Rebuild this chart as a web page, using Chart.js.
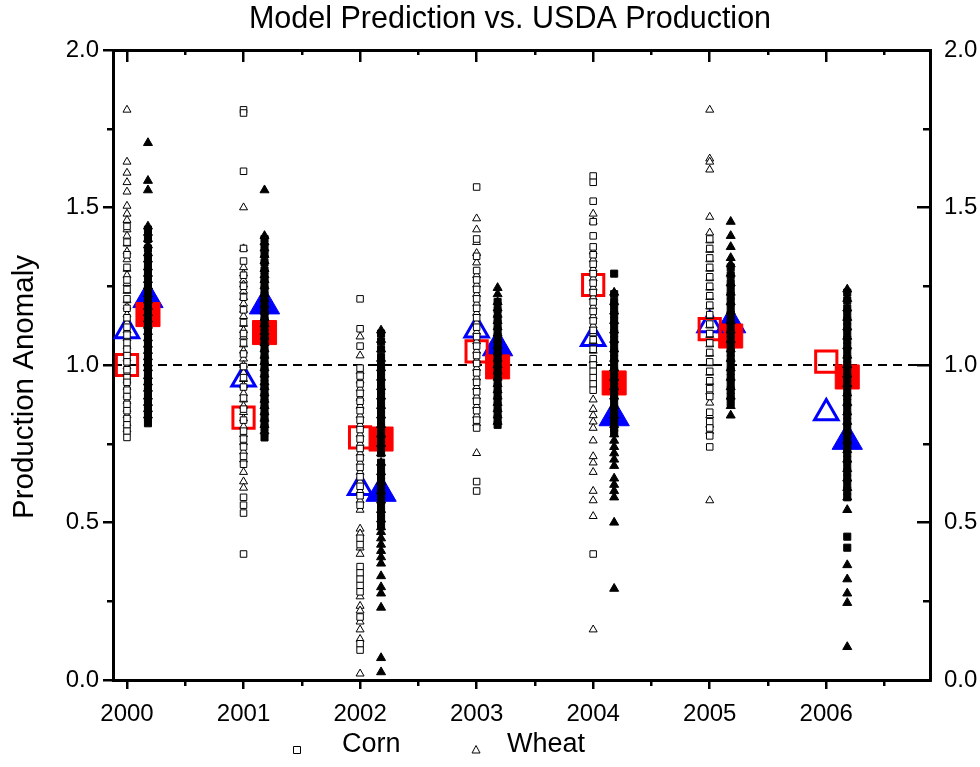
<!DOCTYPE html>
<html>
<head>
<meta charset="utf-8">
<script src="https://cdn.jsdelivr.net/npm/chart.js@4/dist/chart.umd.min.js"></script>
<style>
  html, body { margin: 0; padding: 0; background: #fff; }
  canvas { display: block; }
</style>
</head>
<body>
<canvas id="c" width="980" height="767"></canvas>
<script>
// ---------------- data ----------------
const YEARS = [2000, 2001, 2002, 2003, 2004, 2005, 2006];
const X_MAJOR = [2000, 2001, 2002, 2003, 2004, 2005, 2006];
const X_MINOR = [2000.5, 2001.5, 2002.5, 2003.5, 2004.5, 2005.5, 2006.5];
const Y_MAJOR = [0, 0.5, 1.0, 1.5, 2.0];
const Y_MINOR = [0.25, 0.75, 1.25, 1.75];
const X_MIN = 1999.88, X_MAX = 2006.89;
const Y_MIN = 0, Y_MAX = 2.0;
const REFERENCE_LEVEL = [1.0, 1.0];

// big markers (one per year)
const cornPredMean  = [1.00, 0.833, 0.77, 1.043, 1.254, 1.114, 1.011];  // open red squares
const wheatPredMean = [1.108, 0.955, 0.61, 1.11, 1.083, 1.127, 0.848];  // open blue triangles
const cornObsMean   = [1.16, 1.103, 0.765, 0.994, 0.943, 1.092, 0.962]; // filled red squares
const wheatObsMean  = [1.21, 1.19, 0.595, 1.057, 0.835, 1.13, 0.76];    // filled blue triangles

// small open squares (corn) at each year
const cornPred = [
  [1.44, 1.39, 1.35, 1.31, 1.27, 1.24, 1.21, 1.18, 1.15, 1.12, 1.095, 1.07, 1.05, 1.03, 1.01, 0.985, 0.96, 0.945, 0.92, 0.90, 0.875, 0.855, 0.83, 0.81, 0.79, 0.77],
  [1.81, 1.80, 1.615, 1.37, 1.33, 1.285, 1.25, 1.215, 1.175, 1.135, 1.10, 1.07, 1.035, 0.995, 0.96, 0.93, 0.895, 0.86, 0.825, 0.79, 0.765, 0.74, 0.71, 0.685, 0.58, 0.555, 0.53, 0.40],
  [1.21, 1.115, 1.06, 0.99, 0.965, 0.94, 0.91, 0.885, 0.855, 0.825, 0.795, 0.765, 0.735, 0.705, 0.675, 0.645, 0.615, 0.585, 0.555, 0.45, 0.43, 0.36, 0.34, 0.32, 0.30, 0.28, 0.20, 0.115, 0.095],
  [1.565, 1.40, 1.345, 1.30, 1.27, 1.24, 1.21, 1.18, 1.15, 1.12, 1.09, 1.06, 1.03, 1.005, 0.975, 0.945, 0.915, 0.885, 0.855, 0.825, 0.80, 0.63, 0.60],
  [1.60, 1.58, 1.52, 1.455, 1.41, 1.375, 1.35, 1.32, 1.29, 1.26, 1.23, 1.20, 1.17, 1.14, 1.11, 1.08, 1.05, 1.02, 1.00, 0.98, 0.96, 0.94, 0.92, 0.40],
  [1.40, 1.37, 1.34, 1.31, 1.28, 1.25, 1.22, 1.19, 1.16, 1.13, 1.10, 1.07, 1.04, 1.01, 0.98, 0.95, 0.925, 0.90, 0.85, 0.82, 0.80, 0.775, 0.74],
  []
];
// small open triangles (wheat) at each year
const wheatPred = [
  [1.81, 1.645, 1.61, 1.58, 1.55, 1.505, 1.48, 1.46, 1.43, 1.41, 1.385, 1.36, 1.335, 1.305, 1.285, 1.26, 1.235, 1.205, 1.185, 1.16, 1.135, 1.11, 1.085, 1.06, 1.04, 1.02, 0.995, 0.975, 0.95, 0.93, 0.905, 0.885, 0.86, 0.84, 0.815, 0.795],
  [1.50, 1.37, 1.31, 1.29, 1.27, 1.255, 1.235, 1.215, 1.195, 1.175, 1.155, 1.13, 1.11, 1.09, 1.065, 1.045, 1.02, 1.00, 0.975, 0.955, 0.935, 0.91, 0.89, 0.87, 0.85, 0.83, 0.805, 0.78, 0.755, 0.725, 0.70, 0.66, 0.63, 0.61],
  [1.09, 1.03, 0.98, 0.95, 0.925, 0.895, 0.87, 0.84, 0.81, 0.78, 0.75, 0.72, 0.69, 0.66, 0.63, 0.60, 0.57, 0.54, 0.48, 0.465, 0.42, 0.40, 0.265, 0.235, 0.22, 0.185, 0.16, 0.13, 0.02],
  [1.465, 1.43, 1.39, 1.355, 1.325, 1.285, 1.255, 1.225, 1.195, 1.165, 1.135, 1.105, 1.075, 1.045, 1.015, 0.99, 0.96, 0.93, 0.90, 0.87, 0.84, 0.815, 0.72],
  [1.48, 1.455, 1.36, 1.335, 1.305, 1.275, 1.245, 1.215, 1.185, 1.155, 1.125, 1.10, 1.075, 1.045, 1.015, 0.89, 0.86, 0.84, 0.82, 0.80, 0.76, 0.71, 0.69, 0.66, 0.60, 0.57, 0.52, 0.16],
  [1.81, 1.655, 1.645, 1.62, 1.47, 1.42, 1.395, 1.365, 1.335, 1.305, 1.275, 1.245, 1.215, 1.185, 1.155, 1.125, 1.095, 1.065, 1.035, 1.005, 0.975, 0.945, 0.915, 0.88, 0.84, 0.81, 0.79, 0.57],
  []
];
// small filled squares (corn) just right of each year
const cornObs = [
  [1.43, 1.40, 1.37, 1.345, 1.32, 1.30, 1.28, 1.255, 1.235, 1.215, 1.19, 1.17, 1.15, 1.13, 1.11, 1.09, 1.07, 1.05, 1.03, 1.01, 0.995, 0.975, 0.955, 0.935, 0.915, 0.895, 0.875, 0.855, 0.835, 0.815],
  [1.40, 1.375, 1.35, 1.325, 1.30, 1.28, 1.26, 1.24, 1.22, 1.20, 1.18, 1.16, 1.14, 1.12, 1.10, 1.08, 1.06, 1.04, 1.02, 1.00, 0.98, 0.96, 0.94, 0.92, 0.90, 0.88, 0.86, 0.84, 0.82, 0.80, 0.77],
  [1.10, 1.075, 1.05, 1.025, 1.00, 0.98, 0.96, 0.94, 0.92, 0.90, 0.88, 0.86, 0.84, 0.82, 0.80, 0.78, 0.76, 0.74, 0.72, 0.69, 0.67, 0.65, 0.63, 0.61, 0.59, 0.57, 0.55, 0.53, 0.51, 0.49],
  [1.20, 1.175, 1.15, 1.13, 1.11, 1.09, 1.07, 1.05, 1.03, 1.01, 0.99, 0.97, 0.95, 0.93, 0.91, 0.89, 0.87, 0.85, 0.83, 0.81],
  [1.29, 1.225, 1.20, 1.18, 1.16, 1.14, 1.12, 1.10, 1.08, 1.06, 1.04, 1.02, 1.00, 0.98, 0.96, 0.94, 0.92, 0.90, 0.88, 0.86, 0.84, 0.82, 0.80, 0.785],
  [1.31, 1.285, 1.26, 1.24, 1.22, 1.20, 1.18, 1.16, 1.14, 1.12, 1.10, 1.08, 1.06, 1.04, 1.02, 1.00, 0.98, 0.96, 0.94, 0.92, 0.90, 0.88],
  [1.23, 1.205, 1.18, 1.16, 1.14, 1.12, 1.10, 1.08, 1.06, 1.04, 1.02, 1.00, 0.98, 0.96, 0.94, 0.92, 0.90, 0.88, 0.86, 0.84, 0.82, 0.80, 0.78, 0.76, 0.74, 0.72, 0.70, 0.68, 0.66, 0.64, 0.62, 0.60, 0.58, 0.455, 0.42]
];
// small filled triangles (wheat) just right of each year
const wheatObs = [
  [1.705, 1.585, 1.555, 1.44, 1.42, 1.40, 1.38, 1.355, 1.335, 1.31, 1.29, 1.27, 1.25, 1.225, 1.205, 1.185, 1.165, 1.145, 1.125, 1.105, 1.085, 1.065, 1.045, 1.025, 1.005, 0.99, 0.965, 0.945, 0.925, 0.90, 0.88, 0.86, 0.84],
  [1.555, 1.41, 1.39, 1.37, 1.35, 1.33, 1.305, 1.285, 1.27, 1.25, 1.225, 1.21, 1.19, 1.17, 1.15, 1.13, 1.105, 1.09, 1.07, 1.05, 1.03, 1.01, 0.99, 0.97, 0.945, 0.93, 0.91, 0.89, 0.87, 0.85, 0.83, 0.81, 0.79],
  [1.11, 1.08, 1.05, 1.02, 0.99, 0.96, 0.93, 0.90, 0.87, 0.84, 0.81, 0.78, 0.75, 0.72, 0.69, 0.66, 0.63, 0.60, 0.57, 0.54, 0.51, 0.485, 0.47, 0.45, 0.43, 0.41, 0.39, 0.37, 0.33, 0.295, 0.275, 0.23, 0.07, 0.025],
  [1.245, 1.225, 1.20, 1.18, 1.16, 1.14, 1.12, 1.10, 1.08, 1.06, 1.04, 1.02, 1.00, 0.98, 0.96, 0.94, 0.92, 0.90, 0.88, 0.86, 0.84, 0.82],
  [1.23, 1.20, 1.17, 1.14, 1.11, 1.08, 1.05, 1.02, 0.99, 0.96, 0.93, 0.90, 0.87, 0.84, 0.81, 0.78, 0.76, 0.74, 0.72, 0.70, 0.68, 0.64, 0.62, 0.60, 0.58, 0.50, 0.29],
  [1.455, 1.41, 1.375, 1.34, 1.32, 1.29, 1.26, 1.23, 1.20, 1.17, 1.14, 1.11, 1.08, 1.05, 1.02, 0.99, 0.96, 0.93, 0.90, 0.87, 0.84],
  [1.24, 1.21, 1.18, 1.15, 1.12, 1.09, 1.06, 1.03, 1.00, 0.97, 0.94, 0.91, 0.88, 0.85, 0.82, 0.79, 0.76, 0.73, 0.70, 0.67, 0.64, 0.61, 0.58, 0.54, 0.365, 0.32, 0.275, 0.245, 0.105]
];

const TITLE = 'Model Prediction vs. USDA Production';
const Y_TITLE = 'Production Anomaly';
const LEGEND_LABELS = ['Corn', 'Wheat'];

// ---------------- layout / style ----------------
const SHIFT = 0.18;   // horizontal offset of the filled columns
const FONT = 'Liberation Sans, Arial, Helvetica, sans-serif';
Chart.defaults.font.family = FONT;
Chart.defaults.color = '#000';

function columnPoints(values, shift) {
  const pts = [];
  YEARS.forEach((yr, i) => (values[i] || []).forEach(v => pts.push({ x: yr + shift, y: v })));
  return pts;
}
function meanPoints(values, shift) {
  return YEARS.map((yr, i) => ({ x: yr + shift, y: values[i] }));
}

function legendGlyph(kind, dx, dy) {
  const half = Math.ceil(Math.max(Math.abs(dx), Math.abs(dy))) + 8;
  const c = document.createElement('canvas');
  c.width = half * 2; c.height = half * 2;
  const g = c.getContext('2d');
  const cx = Math.round(half + dx), cy = Math.round(half + dy);
  g.strokeStyle = '#000'; g.fillStyle = '#fff'; g.lineWidth = 1;
  g.beginPath();
  if (kind === 'rect') {
    g.rect(cx - 3.5, cy - 3.5, 7, 7);
  } else {
    g.moveTo(cx, cy - 4.5);
    g.lineTo(cx + 4, cy + 3);
    g.lineTo(cx - 4, cy + 3);
    g.closePath();
  }
  g.fill(); g.stroke();
  return c;
}

const LEGEND_LEFT = 235.5, LEGEND_TOP = 731.5, TITLE_CENTER = 510, Y_TITLE_SHIFT = 22;
const layoutTweaks = {
  id: 'layoutTweaks',
  afterLayout(chart) {
    const lg = chart.legend;
    if (lg) {
      const w = lg.width, h = lg.height;
      lg.left = LEGEND_LEFT; lg.right = LEGEND_LEFT + w;
      lg.top = LEGEND_TOP; lg.bottom = LEGEND_TOP + h;
    }
    const tb = chart.titleBlock;
    if (tb) {
      const w = tb.right - tb.left;
      tb.left = TITLE_CENTER - w / 2; tb.right = TITLE_CENTER + w / 2;
    }
    // move only the rotated axis title (this scale draws no border)
    const ys = chart.scales.y;
    if (ys) { ys.top += Y_TITLE_SHIFT; ys.bottom += Y_TITLE_SHIFT; }
  }
};

const tickFont = { size: 24, family: FONT };
function fixedTicks(list) { return axis => { axis.ticks = list.map(v => ({ value: v })); }; }
const AXIS_BORDER = { display: true, width: 3, color: '#000' };
function hScale(position, ticksList, tickLength, opts) {
  return Object.assign({
    type: 'linear', position, min: X_MIN, max: X_MAX,
    afterBuildTicks: fixedTicks(ticksList),
    ticks: { display: false },
    grid: { display: true, drawOnChartArea: false, drawTicks: true, tickLength, tickWidth: 2.5, tickColor: '#000', lineWidth: 2.5, color: '#000' },
    border: { display: false },
    afterFit: s => { s.height = 0; }
  }, opts || {});
}
function vScale(position, ticksList, tickLength, opts) {
  return Object.assign({
    type: 'linear', position, min: Y_MIN, max: Y_MAX,
    afterBuildTicks: fixedTicks(ticksList),
    ticks: { display: false },
    grid: { display: true, drawOnChartArea: false, drawTicks: true, tickLength, tickWidth: 2.5, tickColor: '#000', lineWidth: 2.5, color: '#000' },
    border: { display: false },
    afterFit: s => { s.width = 0; }
  }, opts || {});
}

const datasets = [
  // small markers (drawn on top)
  { label: 'Corn', data: columnPoints(cornPred, 0), pointStyle: 'rect', pointRadius: 4.6,
    borderColor: '#000', backgroundColor: '#fff', borderWidth: 1, order: 1 },
  { label: 'Wheat', data: columnPoints(wheatPred, 0), pointStyle: 'triangle', pointRadius: 4.6,
    borderColor: '#000', backgroundColor: '#fff', borderWidth: 1, order: 1 },
  { label: 'Corn (USDA)', data: columnPoints(cornObs, SHIFT), pointStyle: 'rect', pointRadius: 5,
    borderColor: '#000', backgroundColor: '#000', borderWidth: 1, order: 1 },
  { label: 'Wheat (USDA)', data: columnPoints(wheatObs, SHIFT), pointStyle: 'triangle', pointRadius: 5.2,
    borderColor: '#000', backgroundColor: '#000', borderWidth: 1, order: 1 },
  // big markers
  { label: 'Corn model', data: meanPoints(cornPredMean, 0), pointStyle: 'rect', pointRadius: 15,
    borderColor: '#ff0000', backgroundColor: 'rgba(0,0,0,0)', borderWidth: 3, order: 5 },
  { label: 'Wheat model', data: meanPoints(wheatPredMean, 0), pointStyle: 'triangle', pointRadius: 13.5,
    borderColor: '#0000ff', backgroundColor: 'rgba(0,0,0,0)', borderWidth: 3, order: 5 },
  { label: 'Corn USDA', data: meanPoints(cornObsMean, SHIFT), pointStyle: 'rect', pointRadius: 17,
    borderColor: '#ff0000', backgroundColor: '#ff0000', borderWidth: 1, order: 5 },
  { label: 'Wheat USDA', data: meanPoints(wheatObsMean, SHIFT), pointStyle: 'triangle', pointRadius: 17.5,
    borderColor: '#0000ff', backgroundColor: '#0000ff', borderWidth: 1, order: 5 },
  // reference line at 1.0
  { label: 'ref', data: [{ x: X_MIN, y: REFERENCE_LEVEL[0] }, { x: X_MAX, y: REFERENCE_LEVEL[1] }],
    showLine: true, pointRadius: 0, borderColor: '#000', borderWidth: 2, borderDash: [9, 6], fill: false, order: 10 }
];

new Chart(document.getElementById('c'), {
  type: 'scatter',
  data: { datasets },
  plugins: [layoutTweaks],
  options: {
    responsive: false,
    animation: false,
    devicePixelRatio: 1,
    layout: { padding: 0 },
    plugins: {
      tooltip: { enabled: false },
      title: {
        display: true, text: TITLE, color: '#000',
        font: { size: 30.5, weight: 'normal', family: FONT, lineHeight: 1.2 },
        padding: { top: 1, bottom: 12.4 }
      },
      legend: {
        display: true, position: 'bottom', align: 'start',
        labels: {
          usePointStyle: true, pointStyleWidth: 93, padding: 0, color: '#000',
          font: { size: 27, family: FONT },
          generateLabels: () => [
            { text: LEGEND_LABELS[0], pointStyle: legendGlyph('rect', 15, 5), fillStyle: '#fff', strokeStyle: '#000', lineWidth: 1, hidden: false, datasetIndex: 0 },
            { text: LEGEND_LABELS[1], pointStyle: legendGlyph('triangle', 29, 5), fillStyle: '#fff', strokeStyle: '#000', lineWidth: 1, hidden: false, datasetIndex: 1 }
          ]
        }
      }
    },
    scales: {
      x: hScale('bottom', X_MAJOR, 9, {
        ticks: { display: true, font: tickFont, color: '#000', padding: 11, maxRotation: 0, autoSkip: false, callback: v => String(v) },
        border: AXIS_BORDER,
        afterFit: s => { s.height = 50; }
      }),
      xMinor: hScale('bottom', X_MINOR, 6, { weight: -1 }),
      xTop: hScale('top', X_MAJOR, -12, { border: AXIS_BORDER }),
      xTopMinor: hScale('top', X_MINOR, -5, { weight: -1 }),
      y: vScale('left', Y_MAJOR, 10, {
        ticks: { display: true, font: tickFont, color: '#000', padding: 4, callback: v => v.toFixed(1) },
        title: { display: true, text: Y_TITLE, color: '#000', font: { size: 29.5, family: FONT, lineHeight: 1.2 }, padding: { top: 7, bottom: 0 } },
        afterFit: s => { s.width = 113; }
      }),
      yMinor: vScale('left', Y_MINOR, 6, { weight: -1, border: AXIS_BORDER }),
      yRight: vScale('right', Y_MAJOR, -13, {
        ticks: { display: true, font: tickFont, color: '#000', padding: 27, callback: v => v.toFixed(1) },
        border: AXIS_BORDER,
        afterFit: s => { s.width = 50; }
      }),
      yRightMinor: vScale('right', Y_MINOR, -7, { weight: -1 })
    }
  }
});
</script>
</body>
</html>
